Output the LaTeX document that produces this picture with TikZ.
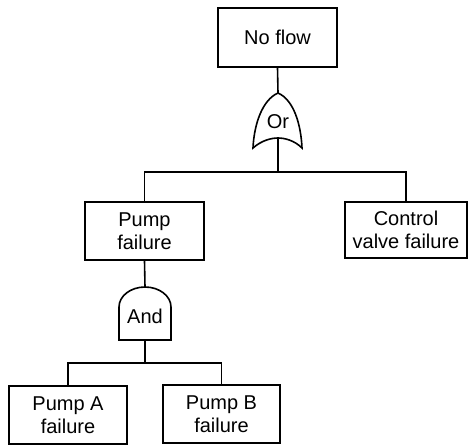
\documentclass[tikz,border=0pt]{standalone}
\usepackage{fontspec}
\setmainfont{Liberation Sans}
\begin{document}
\begin{tikzpicture}[x=1pt,y=-1pt,
  ev/.style={draw, line width=1.6pt, rectangle, align=center, inner sep=0pt,
    font=\fontsize{20}{23}\selectfont},
  gatetext/.style={inner sep=0pt, font=\fontsize{20}{23}\selectfont},
  ln/.style={line width=1.6pt}]
\useasboundingbox (0,0) rectangle (468,445);
% events
\node[ev, minimum width=119pt, minimum height=59pt] (top) at (277.5,37.5) {No flow};
\node[ev, minimum width=119pt, minimum height=58pt] (pump) at (144.5,231) {Pump\\failure};
\node[ev, minimum width=122pt, minimum height=56pt] (cv) at (406,230) {Control\\valve failure};
\node[ev, minimum width=118pt, minimum height=58pt] (pa) at (68,415) {Pump A\\failure};
\node[ev, minimum width=117pt, minimum height=58pt] (pb) at (221.5,414) {Pump B\\failure};
% Or gate
\coordinate (ortop) at (278,93);
\coordinate (orbot) at (278,138);
\node[gatetext] (or) at (278,122) {Or};
\draw[ln] (ortop) .. controls (262,100) and (254,125) .. (253,148)
  .. controls (262,140) and (272,138) .. (orbot)
  .. controls (284,138) and (294,140) .. (302,148)
  .. controls (301,125) and (294,100) .. (ortop);
% And gate
\coordinate (andtop) at (145,287);
\coordinate (andbot) at (145,340);
\node[gatetext] (and) at (145,316) {And};
\draw[ln] (119,340) -- (119,307) arc[start angle=180, end angle=360, x radius=26, y radius=20] -- (171,340) -- cycle;
% connectors
\draw[ln] (top.south) -- (ortop);
\coordinate (bar1) at (278,172);
\draw[ln] (orbot) -- (bar1);
\draw[ln] (pump.north) |- (bar1) -| (cv.north);
\draw[ln] (pump.south) -- (andtop);
\coordinate (bar2) at (145,363);
\draw[ln] (andbot) -- (bar2);
\draw[ln] (pa.north) |- (bar2) -| (pb.north);
\end{tikzpicture}
\end{document}
